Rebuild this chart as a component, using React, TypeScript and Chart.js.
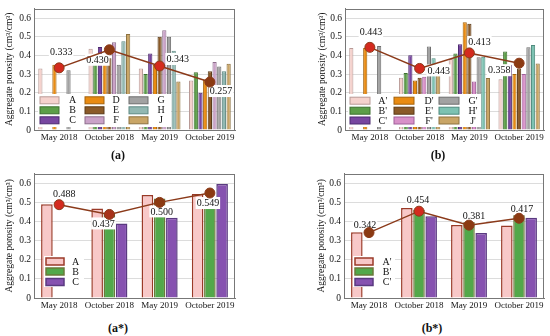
import React, { useEffect, useRef } from 'react';
import { Chart, registerables } from 'chart.js';
Chart.register(...registerables);

// ---------- data ----------
const categories = ['May 2018', 'October 2018', 'May 2019', 'October 2019'];
const yTicks = [0, 0.1, 0.2, 0.3, 0.4, 0.5, 0.6];

const namesA = ['A', 'B', 'C', 'D', 'E', 'F', 'G', 'H', 'J'];
const namesB = ["A'", "B'", "C'", "D'", "E'", "F'", "G'", "H'", "J'"];

// panel (a)
const a_A = [0.33, 0.435, 0.33, 0.265];
const a_B = [null, 0.4, 0.3, 0.31];
const a_C = [null, 0.445, 0.41, 0.2];
const a_D = [0.35, 0.39, 0.35, 0.27];
const a_E = [null, 0.385, 0.5, 0.315];
const a_F = [null, 0.47, 0.535, 0.365];
const a_G = [0.32, 0.35, 0.5, 0.34];
const a_H = [null, 0.475, 0.425, 0.315];
const a_J = [null, 0.515, 0.26, 0.355];
const a_mean = [0.333, 0.43, 0.343, 0.257];

// panel (b)
const b_A = [0.44, 0.28, 0.38, 0.272];
const b_B = [null, 0.305, 0.41, 0.42];
const b_C = [null, 0.4, 0.46, 0.35];
const b_D = [0.44, 0.265, 0.577, 0.3];
const b_E = [null, 0.28, 0.57, 0.33];
const b_F = [null, 0.285, 0.26, 0.3];
const b_G = [0.45, 0.447, 0.39, 0.443];
const b_H = [null, 0.385, 0.393, 0.455];
const b_J = [null, 0.297, 0.278, 0.357];
const b_mean = [0.443, 0.33, 0.413, 0.358];
const b_meanLabels = ['0.443', '0.443', '0.413', '0.358'];

// panel (a*)
const as_A = [0.49, 0.468, 0.538, 0.544];
const as_B = [null, 0.445, 0.52, 0.505];
const as_C = [null, 0.39, 0.42, 0.596];
const as_mean = [0.488, 0.437, 0.5, 0.549];

// panel (b*)
const bs_A = [0.344, 0.47, 0.382, 0.379];
const bs_B = [null, 0.46, 0.41, 0.44];
const bs_C = [null, 0.427, 0.34, 0.419];
const bs_mean = [0.342, 0.454, 0.381, 0.417];

// ---------- styles ----------
const FONT = "'Liberation Serif', 'Times New Roman', serif";
const LINE = '#8b3a1a';
const RED = '#d42a1e';
const BROWN = '#8b3a12';

const fillsA = ['#f5d2cd', '#5c9e48', '#7846a0', '#e98b12', '#8a5a28', '#caa2c8', '#a2a2a2', '#92b8b2', '#c9a566'];
const bordersA = ['#b89a96', '#3e7030', '#4d2a70', '#a4620a', '#5a3a18', '#8e6e8c', '#6e6e6e', '#5f8a84', '#8d7240'];
const fillsB = ['#f5d2cd', '#5c9e48', '#7846a0', '#e98b12', '#8a5a28', '#d890c8', '#a2a2a2', '#7dc2b2', '#c9a566'];
const bordersB = ['#b89a96', '#3e7030', '#4d2a70', '#a4620a', '#5a3a18', '#a0609a', '#6e6e6e', '#4f8a7e', '#8d7240'];
const fillsS = ['#f8c8c8', '#52a84a', '#8652b0'];
const bordersS = ['#9a3a28', '#6a7a3a', '#5a3a80'];

const decor = {
  id: 'decor',
  beforeDatasetDraw(chart: any, args: any, opts: any) {
    if (chart.data.datasets[args.index].type !== 'line') return;
    const ctx = chart.ctx;
    ctx.save();
    // legend
    const lg = opts.legend;
    ctx.fillStyle = '#ffffff';
    ctx.fillRect(lg.box[0], lg.box[1], lg.box[2], lg.box[3]);
    lg.names.forEach((n: string, i: number) => {
      const col = lg.cols[Math.floor(i / 3)];
      const ry = lg.rows[i % 3];
      ctx.fillStyle = lg.fills[i];
      ctx.fillRect(col[0], ry - lg.sh / 2, lg.sw, lg.sh);
      ctx.strokeStyle = lg.borders[i];
      ctx.lineWidth = lg.bw;
      ctx.strokeRect(col[0], ry - lg.sh / 2, lg.sw, lg.sh);
      ctx.fillStyle = '#111';
      ctx.font = `10px ${FONT}`;
      ctx.textAlign = 'center';
      ctx.textBaseline = 'middle';
      ctx.fillText(n, col[1], ry + 0.5);
    });
    // point labels
    const meta = chart.getDatasetMeta(args.index);
    const lb = opts.labels;
    ctx.font = `10px ${FONT}`;
    lb.texts.forEach((t: string, i: number) => {
      const pt = meta.data[i];
      const cx = pt.x + lb.offsets[i][0];
      const cy = pt.y + lb.offsets[i][1];
      const w = ctx.measureText(t).width;
      ctx.fillStyle = '#ffffff';
      ctx.fillRect(cx - w / 2 - 1, cy - 6, w + 2, 12);
      ctx.fillStyle = '#111';
      ctx.textAlign = 'center';
      ctx.textBaseline = 'middle';
      ctx.fillText(t, cx, cy + 0.5);
    });
    ctx.restore();
  },
  afterDraw(chart: any) {
    const { ctx, chartArea } = chart;
    ctx.save();
    ctx.strokeStyle = '#777';
    ctx.lineWidth = 1;
    ctx.strokeRect(Math.round(chartArea.left) + 0.5, Math.round(chartArea.top) + 0.5,
      Math.round(chartArea.right - chartArea.left) - 1, Math.round(chartArea.bottom - chartArea.top));
    ctx.restore();
  },
};

function makeConfig(p: any) {
  const datasets: any[] = p.values.map((vals: any[], i: number) => ({
    type: 'bar',
    label: p.names[i],
    data: vals,
    backgroundColor: p.fills[i],
    borderColor: p.borders[i],
    borderWidth: p.bw,
    categoryPercentage: p.catPct,
    barPercentage: p.barPct,
    order: 1,
  }));
  datasets.push({
    type: 'line',
    label: 'mean',
    data: p.line,
    borderColor: LINE,
    borderWidth: 1.5,
    pointRadius: 5,
    pointBackgroundColor: p.pointColors,
    pointBorderColor: LINE,
    pointBorderWidth: 1,
    order: 0,
  });
  return {
    type: 'bar',
    data: { labels: categories, datasets },
    plugins: [decor],
    options: {
      responsive: false,
      animation: false,
      devicePixelRatio: 1,
      layout: { padding: { left: p.pl, right: p.pr, top: p.pt, bottom: 0 } },
      plugins: {
        legend: { display: false },
        tooltip: { enabled: false },
        decor: {
          legend: { ...p.legend, names: p.names, fills: p.fills, borders: p.borders, bw: p.bw },
          labels: { texts: p.labelTexts, offsets: p.offsets },
        },
      },
      scales: {
        x: {
          grid: { display: false, drawTicks: false },
          border: { color: '#777' },
          ticks: { font: { family: FONT, size: 9 }, color: '#111', padding: 2, maxRotation: 0, autoSkip: false },
          afterFit: (s: any) => { s.height = 20; },
        },
        y: {
          min: 0,
          max: 0.65,
          grid: { color: '#dcdcdc', drawTicks: false },
          border: { color: '#777' },
          afterBuildTicks: (s: any) => { s.ticks = yTicks.map((v) => ({ value: v })); },
          ticks: {
            font: { family: FONT, size: 9.5 },
            color: '#111',
            padding: 3,
            callback: (v: any) => (Number(v) === 0 ? '0' : Number(v).toFixed(1)),
          },
          title: {
            display: true,
            text: 'Aggregate porosity (cm³/cm³)',
            font: { family: FONT, size: 9.5 },
            color: '#111',
          },
          afterFit: (s: any) => { s.width = p.yw; },
        },
      },
    },
  };
}

const fmt = (arr: number[]) => arr.map((v) => v.toFixed(3));

const panels = [
  {
    key: 'a', left: 0, top: 0, width: 275, height: 150,
    cfg: {
      names: namesA, values: [a_A, a_B, a_C, a_D, a_E, a_F, a_G, a_H, a_J], fills: fillsA, borders: bordersA, bw: 1,
      catPct: 0.84, barPct: 0.9, line: a_mean, pointColors: [RED, BROWN, RED, BROWN],
      labelTexts: fmt(a_mean), offsets: [[2, -16], [-12, 10], [18, -7], [11, 9]],
      pl: 0, yw: 34, pr: 40, pt: 5,
      legend: { box: [38, 94, 133, 33], cols: [[40, 72.7], [85, 116], [129, 161]], rows: [100.3, 110.3, 120.3], sw: 19, sh: 7 },
    },
  },
  {
    key: 'b', left: 275, top: 0, width: 275, height: 150,
    cfg: {
      names: namesB, values: [b_A, b_B, b_C, b_D, b_E, b_F, b_G, b_H, b_J], fills: fillsB, borders: bordersB, bw: 1,
      catPct: 0.84, barPct: 0.9, line: b_mean, pointColors: [RED, RED, RED, BROWN],
      labelTexts: b_meanLabels, offsets: [[1, -15], [19, 2], [10, -11], [-20, 7]],
      pl: 38, yw: 32, pr: 4, pt: 5,
      legend: { box: [73, 94, 133, 33], cols: [[75, 107.7], [119, 154], [164, 198]], rows: [100.7, 110.7, 120.5], sw: 20, sh: 7 },
    },
  },
  {
    key: 'as', left: 0, top: 165, width: 275, height: 153,
    cfg: {
      names: namesA.slice(0, 3), values: [as_A, as_B, as_C], fills: fillsS, borders: bordersS, bw: 1.5,
      catPct: 0.73, barPct: 0.95, line: as_mean, pointColors: [RED, '#a8321a', BROWN, BROWN],
      labelTexts: fmt(as_mean), offsets: [[5, -11], [-6, 9], [2, 9], [-2, 10]],
      pl: 0, yw: 34, pr: 40, pt: 8,
      legend: { box: [44, 91, 40, 31], cols: [[46, 75.7]], rows: [96.5, 106.5, 117], sw: 18, sh: 7 },
    },
  },
  {
    key: 'bs', left: 275, top: 165, width: 275, height: 153,
    cfg: {
      names: namesB.slice(0, 3), values: [bs_A, bs_B, bs_C], fills: fillsS, borders: bordersS, bw: 1.5,
      catPct: 0.73, barPct: 0.95, line: bs_mean, pointColors: [BROWN, RED, BROWN, BROWN],
      labelTexts: fmt(bs_mean), offsets: [[-4, -8], [-1, -11], [5, -9], [3, -9]],
      pl: 37, yw: 32, pr: 4, pt: 8,
      legend: { box: [78, 91, 42, 31], cols: [[80, 112]], rows: [96.5, 106.5, 117], sw: 18, sh: 7 },
    },
  },
];

const captions = [
  { text: '(a)', x: 118, y: 155 },
  { text: '(b)', x: 438, y: 155 },
  { text: '(a*)', x: 118, y: 328 },
  { text: '(b*)', x: 432, y: 328 },
];

function Panel({ left, top, width, height, cfg }: any) {
  const ref = useRef<HTMLCanvasElement>(null);
  useEffect(() => {
    const chart = new Chart(ref.current as HTMLCanvasElement, makeConfig(cfg) as any);
    return () => chart.destroy();
  }, []);
  return (
    <canvas
      ref={ref}
      width={width}
      height={height}
      style={{ position: 'absolute', left, top, width, height }}
    />
  );
}

export default function App() {
  return (
    <div style={{ position: 'absolute', left: 0, top: 0, width: 550, height: 336, background: '#fff', overflow: 'hidden' }}>
      {panels.map((p) => (
        <Panel key={p.key} left={p.left} top={p.top} width={p.width} height={p.height} cfg={p.cfg} />
      ))}
      {captions.map((c) => (
        <div
          key={c.text}
          style={{
            position: 'absolute', left: c.x - 30, top: c.y - 8, width: 60, height: 16,
            textAlign: 'center', fontFamily: FONT, fontSize: 12, fontWeight: 'bold', lineHeight: '16px', color: '#111',
          }}
        >
          {c.text}
        </div>
      ))}
    </div>
  );
}
